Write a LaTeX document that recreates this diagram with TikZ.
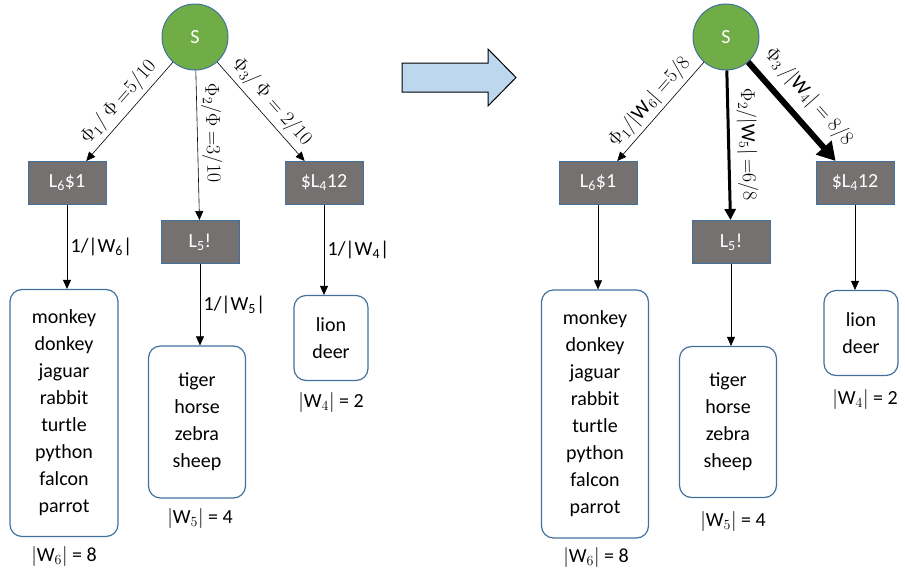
\RequirePackage{fix-cm}
\documentclass[tikz,border=0pt]{standalone}
\usepackage{fontspec}
\setmainfont{Carlito}
\usetikzlibrary{arrows.meta}
\definecolor{rootgreen}{HTML}{70AD47}
\definecolor{edgeblue}{HTML}{41719C}
\definecolor{boxgray}{HTML}{767171}
\definecolor{arrowblue}{HTML}{BDD7EE}
\begin{document}
\begin{tikzpicture}[x=1pt, y=-1pt,
    root/.style={draw=edgeblue, line width=1pt, fill=rootgreen, circle, minimum size=66pt, inner sep=0pt, text=white, font=\fontsize{20}{24}\selectfont},
    lang/.style={draw=edgeblue, line width=1pt, fill=boxgray, rectangle, minimum width=78pt, minimum height=43pt, inner sep=2pt, text=white, font=\fontsize{20}{24}\selectfont},
    words/.style={draw=edgeblue, line width=1.2pt, rectangle, rounded corners=12pt, align=center, inner sep=0pt, font=\fontsize{20}{27}\selectfont},
    size/.style={font=\fontsize{20}{24}\selectfont},
    prob/.style={font=\fontsize{20}{22}\selectfont, sloped, above, inner sep=4pt},
    link/.style={-{Triangle[length=9pt,width=8pt]}, line width=0.6pt},
  ]
  \useasboundingbox (0,0) rectangle (905,576);

  % uniform split
  \node[root] (s1) at (195,37) {S};
  \node[lang] (l6a) at (67,183) {L\textsubscript{6}\$1};
  \node[lang] (l5a) at (200,242) {L\textsubscript{5}!};
  \node[lang] (l4a) at (324,183) {\$L\textsubscript{4}12};
  \node[words, minimum width=108pt, minimum height=247pt] (w6a) at (64,413) {monkey\\donkey\\jaguar\\rabbit\\turtle\\python\\falcon\\parrot};
  \node[words, minimum width=97pt, minimum height=152pt] (w5a) at (197,422) {tiger\\horse\\zebra\\sheep};
  \node[words, minimum width=74pt, minimum height=85pt] (w4a) at (331,338) {lion\\deer};
  \node[size] (n6a) at (64,556) {$|\mathrm{W}_6|$ = 8};
  \node[size] (n5a) at (200,518) {$|\mathrm{W}_5|$ = 4};
  \node[size] (n4a) at (331,402) {$|\mathrm{W}_4|$ = 2};

  \draw[link] (s1) -- node[prob, midway] {$\Phi_1/\ \Phi\ {=}5/10$} (l6a);
  \draw[link] (s1) -- node[prob, pos=0.42] {$\Phi_2/\Phi\ {=}3/10$} (l5a);
  \draw[link] (s1) -- node[prob, midway] {$\Phi_3/\ \Phi = 2/10$} (l4a);
  \draw[link] (l6a) -- node[midway, right, size] {1/|W\textsubscript{6}|} (l6a |- w6a.north);
  \draw[link] (l5a) -- node[midway, right, size] {1/|W\textsubscript{5}|} (l5a |- w5a.north);
  \draw[link] (l4a) -- node[midway, right, size] {1/|W\textsubscript{4}|} (l4a |- w4a.north);

  % big arrow
  \draw[fill=arrowblue, line width=1pt, line join=miter] (402,63) -- (488,63) -- (488,49) -- (516,77.5) -- (488,106) -- (488,92) -- (402,92) -- cycle;

  % weighted split
  \node[root] (s2) at (726,37) {S};
  \node[lang] (l6b) at (598,183) {L\textsubscript{6}\$1};
  \node[lang] (l5b) at (731,242) {L\textsubscript{5}!};
  \node[lang] (l4b) at (855,183) {\$L\textsubscript{4}12};
  \node[words, minimum width=107pt, minimum height=248pt] (w6b) at (595,414) {monkey\\donkey\\jaguar\\rabbit\\turtle\\python\\falcon\\parrot};
  \node[words, minimum width=97pt, minimum height=151pt] (w5b) at (728,422) {tiger\\horse\\zebra\\sheep};
  \node[words, minimum width=74pt, minimum height=85pt] (w4b) at (861,333) {lion\\deer};
  \node[size] (n6b) at (596,557) {$|\mathrm{W}_6|$ = 8};
  \node[size] (n5b) at (733,521) {$|\mathrm{W}_5|$ = 4};
  \node[size] (n4b) at (865,399) {$|\mathrm{W}_4|$ = 2};

  \draw[link] (s2) -- node[prob, midway] {$\Phi_1/|\mathrm{W}_6|\ {=}5/8$} (l6b);
  \draw[-{Triangle[length=11pt,width=11pt]}, line width=3pt] (s2) -- node[prob, midway, inner sep=7pt] {$\Phi_2/|\mathrm{W}_5|\ {=}6/8$} (l5b);
  \draw[-{Triangle[length=18pt,width=20pt]}, line width=6pt] (s2) -- node[prob, midway, inner sep=9pt] {$\Phi_3\,/|\mathrm{W}_4| = 8/8$} (l4b);
  \draw[link] (l6b) -- (l6b |- w6b.north);
  \draw[link] (l5b) -- (l5b |- w5b.north);
  \draw[link] (l4b) -- (l4b |- w4b.north);
\end{tikzpicture}
\end{document}
